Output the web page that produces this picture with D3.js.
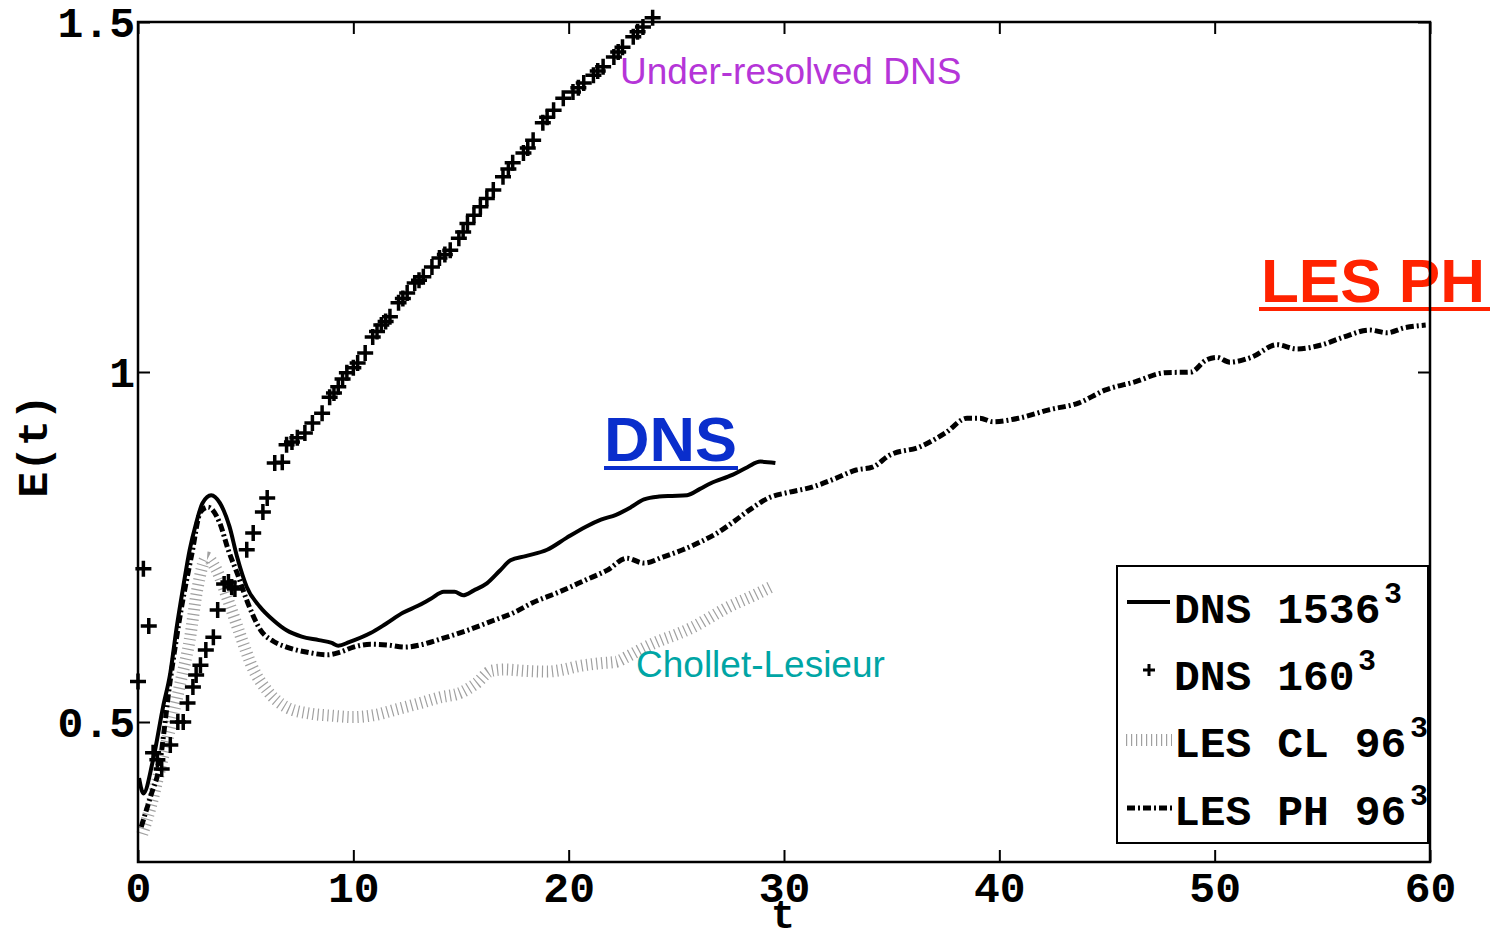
<!DOCTYPE html>
<html>
<head>
<meta charset="utf-8">
<script src="https://cdn.jsdelivr.net/npm/d3@7"></script>
<style>
  html, body { margin: 0; padding: 0; background: #fff; }
  svg { display: block; }
  .mono { font-family: "Courier New", "Liberation Mono", monospace; font-weight: bold; }
  .sans { font-family: "Liberation Sans", Arial, sans-serif; }
</style>
</head>
<body>
<svg id="chart" width="1493" height="934"></svg>
<script>
// Kinetic energy E(t) over time for DNS and LES runs

const xTicks = [0, 10, 20, 30, 40, 50, 60];
const yTicks = [0.5, 1, 1.5];
const yTickLabels = ["0.5", "1", "1.5"];

// DNS 1536^3 (solid)
const dnsT = [0.05, 0.25, 0.7, 1.16, 1.5, 1.8, 2.1, 2.4, 2.7, 3.0, 3.4, 3.8, 4.25, 4.6, 5.05, 5.65, 6.3, 6.9, 7.6, 8.4, 9.0, 9.3, 9.8, 10.8, 11.5, 12.3, 13.0, 13.6, 14.2, 14.7, 15.1, 15.6, 16.2, 16.8, 17.3, 18.0, 19.0, 19.9, 20.8, 21.5, 22.2, 22.9, 23.5, 24.2, 24.8, 25.5, 26.1, 26.6, 27.6, 28.3, 28.9, 29.6];
const dnsE = [0.42, 0.398, 0.446, 0.521, 0.57, 0.636, 0.693, 0.746, 0.784, 0.813, 0.824, 0.813, 0.779, 0.736, 0.693, 0.665, 0.645, 0.631, 0.622, 0.617, 0.613, 0.609, 0.614, 0.627, 0.64, 0.656, 0.666, 0.676, 0.686, 0.686, 0.681, 0.688, 0.698, 0.716, 0.731, 0.737, 0.746, 0.763, 0.779, 0.789, 0.796, 0.807, 0.818, 0.822, 0.823, 0.824, 0.833, 0.841, 0.853, 0.864, 0.872, 0.87];

// DNS 160^3 (plus markers)
const dns160T = [0.0, 0.25, 0.5, 0.7, 0.9, 1.1, 1.5, 1.85, 2.1, 2.3, 2.55, 2.7, 2.9, 3.15, 3.5, 3.7, 4.0, 4.2, 4.35, 4.5, 5.05, 5.35, 5.8, 6.0, 6.35, 6.7, 6.9, 7.15, 7.4, 7.75, 8.1, 8.55, 8.9, 9.1, 9.3, 9.5, 9.7, 10.0, 10.2, 10.55, 10.9, 11.1, 11.3, 11.5, 11.7, 12.1, 12.3, 12.5, 12.85, 13.05, 13.25, 13.65, 14.0, 14.25, 14.5, 14.9, 15.1, 15.3, 15.6, 15.9, 16.2, 16.5, 16.95, 17.2, 17.4, 17.9, 18.1, 18.35, 18.8, 19.0, 19.3, 19.75, 20.2, 20.45, 20.7, 21.15, 21.35, 21.6, 22.1, 22.3, 22.5, 23.0, 23.2, 23.45, 23.9];
const dns160E = [0.558, 0.719, 0.637, 0.456, 0.446, 0.433, 0.467, 0.5, 0.5, 0.527, 0.55, 0.567, 0.581, 0.603, 0.621, 0.66, 0.697, 0.70, 0.693, 0.69, 0.746, 0.77, 0.80, 0.82, 0.87, 0.871, 0.896, 0.90, 0.906, 0.913, 0.927, 0.941, 0.964, 0.97, 0.979, 0.99, 0.999, 1.006, 1.013, 1.027, 1.05, 1.058, 1.067, 1.072, 1.079, 1.099, 1.105, 1.113, 1.127, 1.131, 1.136, 1.15, 1.163, 1.168, 1.174, 1.191, 1.2, 1.212, 1.224, 1.236, 1.248, 1.26, 1.279, 1.29, 1.299, 1.313, 1.32, 1.331, 1.356, 1.364, 1.374, 1.391, 1.40, 1.406, 1.413, 1.424, 1.43, 1.436, 1.45, 1.457, 1.464, 1.479, 1.486, 1.493, 1.506];

// LES Chollet-Lesieur 96^3 (hatched grey)
const clT = [0.2, 0.6, 1.0, 1.56, 2.0, 2.4, 2.75, 3.2, 3.6, 4.3, 4.8, 5.3, 6.0, 6.9, 8.0, 9.0, 10.0, 11.0, 12.0, 13.1, 14.0, 15.0, 15.7, 16.4, 17.0, 18.0, 19.0, 19.6, 20.5, 21.5, 22.2, 22.7, 23.5, 24.3, 25.0, 25.8, 26.6, 27.4, 28.4, 29.4];
const clE = [0.34, 0.38, 0.43, 0.5, 0.56, 0.617, 0.689, 0.735, 0.72, 0.664, 0.62, 0.579, 0.545, 0.521, 0.512, 0.509, 0.507, 0.51, 0.518, 0.527, 0.535, 0.542, 0.555, 0.573, 0.575, 0.573, 0.572, 0.574, 0.58, 0.584, 0.586, 0.593, 0.606, 0.617, 0.625, 0.636, 0.65, 0.664, 0.678, 0.693];

// LES PH 96^3 (dash-dot)
const phT = [0.15, 0.65, 0.93, 1.5, 2.0, 2.5, 2.9, 3.25, 3.8, 4.2, 4.6, 5.1, 5.7, 6.3, 6.9, 7.8, 8.8, 9.4, 10.0, 10.8, 11.6, 12.4, 13.1, 14.0, 15.3, 16.5, 17.5, 18.3, 19.5, 20.8, 21.8, 22.7, 23.5, 24.4, 25.3, 26.1, 26.9, 27.7, 28.4, 29.35, 30.2, 31.35, 32.4, 33.35, 34.1, 34.9, 36.3, 37.5, 38.5, 39.1, 39.7, 40.9, 42.3, 43.7, 44.9, 46.3, 47.7, 48.9, 49.6, 50.1, 50.7, 51.7, 52.9, 53.8, 55.0, 56.0, 57.2, 58.0, 58.8, 59.8];
const phE = [0.35, 0.40, 0.427, 0.56, 0.66, 0.74, 0.80, 0.807, 0.784, 0.745, 0.713, 0.67, 0.631, 0.615, 0.607, 0.60, 0.596, 0.60, 0.607, 0.611, 0.61, 0.607, 0.61, 0.618, 0.631, 0.645, 0.657, 0.67, 0.685, 0.703, 0.717, 0.734, 0.727, 0.736, 0.746, 0.757, 0.77, 0.787, 0.803, 0.821, 0.828, 0.836, 0.848, 0.86, 0.864, 0.881, 0.893, 0.913, 0.934, 0.934, 0.929, 0.934, 0.946, 0.956, 0.974, 0.986, 0.999, 1.0, 1.017, 1.021, 1.014, 1.021, 1.039, 1.033, 1.039, 1.05, 1.06, 1.056, 1.063, 1.067];

const legendLabels = ["DNS 1536", "DNS 160", "LES CL 96", "LES PH 96"];

const zip = (ts, es) => ts.map((t, i) => [t, es[i]]);

const svg = d3.select("#chart");
const plotL = 138, plotR = 1430, plotT = 22, plotB = 862;

const x = d3.scaleLinear().domain([0, 60]).range([plotL, plotR]);
const y = d3.scaleLinear().domain([0.3, 1.5]).range([plotB, plotT]);

const line = d3.line().x(d => x(d[0])).y(d => y(d[1])).curve(d3.curveMonotoneX);

const hatchColor = "#a0a0a0", hatchDash = "1.2 3.8";

const plot = svg.append("g");

// hatched grey curve
plot.append("path").datum(zip(clT, clE))
  .attr("d", line).attr("fill", "none")
  .attr("stroke", hatchColor).attr("stroke-width", 12)
  .attr("stroke-dasharray", hatchDash);

// dash-dot curve
plot.append("path").datum(zip(phT, phE))
  .attr("d", line).attr("fill", "none")
  .attr("stroke", "#000").attr("stroke-width", 5)
  .attr("stroke-dasharray", "8 3 2 3");

// solid curve
plot.append("path").datum(zip(dnsT, dnsE))
  .attr("d", line).attr("fill", "none")
  .attr("stroke", "#000").attr("stroke-width", 4)
  .attr("stroke-linejoin", "round");

// plus markers
const plusPath = "M-8,0H8M0,-8V8";
plot.selectAll("path.plus").data(zip(dns160T, dns160E)).join("path")
  .attr("class", "plus")
  .attr("transform", d => `translate(${x(d[0])},${y(d[1])})`)
  .attr("d", plusPath).attr("stroke", "#000").attr("stroke-width", 3.5).attr("fill", "none");

// annotations
svg.append("text").attr("class", "sans").attr("x", 620).attr("y", 84)
  .attr("font-size", 37).attr("fill", "#b535d8").text("Under-resolved DNS");

svg.append("text").attr("class", "sans").attr("x", 636).attr("y", 677)
  .attr("font-size", 37).attr("fill", "#00a5a5").text("Chollet-Lesieur");

svg.append("text").attr("class", "sans").attr("x", 604).attr("y", 461)
  .attr("font-size", 63).attr("font-weight", "bold").attr("fill", "#0a2ecc").text("DNS");
svg.append("rect").attr("x", 604).attr("y", 466).attr("width", 134).attr("height", 4).attr("fill", "#0a2ecc");

svg.append("text").attr("class", "sans").attr("x", 1261).attr("y", 302)
  .attr("font-size", 62).attr("font-weight", "bold").attr("fill", "#ff2200").text("LES PH");
svg.append("rect").attr("x", 1259).attr("y", 307).attr("width", 231).attr("height", 4).attr("fill", "#ff2200");

// axes (ticks point inward)
const axB = svg.append("g").attr("transform", `translate(0,${plotB})`)
  .call(d3.axisBottom(x).tickValues(xTicks).tickSizeInner(-12).tickSizeOuter(0).tickFormat(d3.format("d")));
const axT = svg.append("g").attr("transform", `translate(0,${plotT})`)
  .call(d3.axisTop(x).tickValues(xTicks).tickSizeInner(-12).tickSizeOuter(0).tickFormat(""));
const axL = svg.append("g").attr("transform", `translate(${plotL},0)`)
  .call(d3.axisLeft(y).tickValues(yTicks).tickSizeInner(-12).tickSizeOuter(0).tickFormat((d, i) => yTickLabels[i]));
const axR = svg.append("g").attr("transform", `translate(${plotR},0)`)
  .call(d3.axisRight(y).tickValues(yTicks).tickSizeInner(-12).tickSizeOuter(0).tickFormat(""));

[axB, axT, axL, axR].forEach(g => {
  g.select(".domain").remove();
  g.selectAll(".tick line").attr("stroke", "#000").attr("stroke-width", 2);
});
axB.selectAll(".tick text").attr("class", "mono").attr("font-size", 43).attr("fill", "#000")
  .attr("y", 40).attr("dy", 0);
axL.selectAll(".tick text").attr("class", "mono").attr("font-size", 43).attr("fill", "#000")
  .attr("x", -3).attr("dy", "0.33em");

// frame
svg.append("rect").attr("x", plotL).attr("y", plotT).attr("width", plotR - plotL).attr("height", plotB - plotT)
  .attr("fill", "none").attr("stroke", "#000").attr("stroke-width", 2.5);

// axis titles
svg.append("text").attr("class", "mono").attr("font-size", 40).attr("text-anchor", "middle")
  .attr("x", 783).attr("y", 928).text("t");
svg.append("text").attr("class", "mono").attr("font-size", 43).attr("text-anchor", "middle")
  .attr("transform", "translate(47,446) rotate(-90)").text("E(t)");

// legend
const lg = svg.append("g");
lg.append("rect").attr("x", 1117).attr("y", 566).attr("width", 311).attr("height", 277)
  .attr("fill", "#fff").attr("stroke", "#000").attr("stroke-width", 2);

const rowY = [602, 670, 740, 808];
const baseY = [623, 690, 757, 825];
const supX = [1384, 1358, 1410, 1410];

lg.append("line").attr("x1", 1127).attr("x2", 1170).attr("y1", rowY[0]).attr("y2", rowY[0])
  .attr("stroke", "#000").attr("stroke-width", 4);
lg.append("path").attr("transform", `translate(1149,${rowY[1]})`).attr("d", "M-6,0H6M0,-6V6")
  .attr("stroke", "#000").attr("stroke-width", 3).attr("fill", "none");
lg.append("line").attr("x1", 1126).attr("x2", 1172).attr("y1", rowY[2]).attr("y2", rowY[2])
  .attr("stroke", hatchColor).attr("stroke-width", 12).attr("stroke-dasharray", hatchDash);
lg.append("line").attr("x1", 1127).attr("x2", 1172).attr("y1", rowY[3]).attr("y2", rowY[3])
  .attr("stroke", "#000").attr("stroke-width", 5).attr("stroke-dasharray", "8 3 2 3");

legendLabels.forEach((lab, i) => {
  lg.append("text").attr("class", "mono").attr("font-size", 43).attr("x", 1174).attr("y", baseY[i])
    .attr("xml:space", "preserve").text(lab);
  lg.append("text").attr("class", "mono").attr("font-size", 30).attr("x", supX[i]).attr("y", baseY[i] - 20)
    .text("3");
});
</script>
</body>
</html>
